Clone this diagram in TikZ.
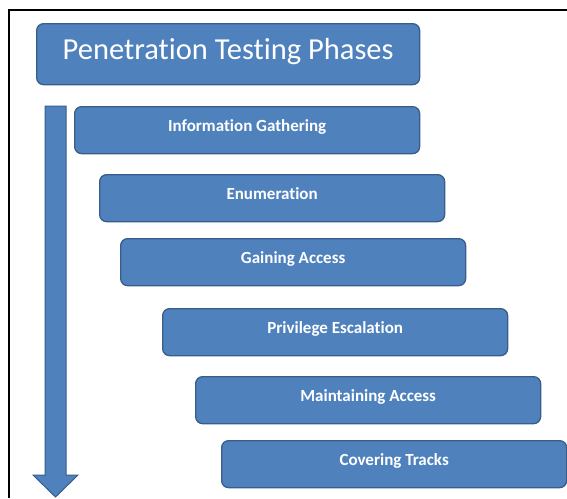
\documentclass[tikz,border=0pt]{standalone}
\usepackage{fontspec}
\setmainfont{Carlito}[Ligatures={NoCommon}]
\usetikzlibrary{positioning}
\definecolor{pBlue}{HTML}{4F81BD}
\definecolor{pEdge}{HTML}{385D8A}
\tikzset{
  phase/.style  ={rectangle,rounded corners=7pt,fill=pBlue,draw=pEdge,line width=1.3pt,text=white,
                  anchor=north west,minimum width=345pt,minimum height=47pt,inner sep=0pt,
                  font=\fontsize{17pt}{19pt}\selectfont\bfseries},
  heading/.style={phase,minimum width=383pt,minimum height=61pt,font=\fontsize{30.5pt}{33pt}\selectfont},
}
% baseline placed relative to the node centre
\newcommand{\base}[2]{\raisebox{#1}[0pt][0pt]{#2}}

\begin{document}
\begin{tikzpicture}[x=1pt,y=-1pt]
  \useasboundingbox (0,0) rectangle (567,498);
  % frame
  \draw[line width=2pt] (9,498) -- (9,10) -- (567,10);

  \node[heading] (title) at (36,23) {\base{-5pt}{Penetration Testing Phases}};

  \node[phase] (gather)   at (74,106)  {\base{-1.5pt}{Information Gathering}};
  \node[phase] (enum)     at (99,174)  {\base{-1.5pt}{Enumeration}};
  \node[phase] (access)   at (120,238) {\base{-1.5pt}{Gaining Access}};
  \node[phase] (privesc)  at (162,308) {\base{-1.5pt}{Privilege Escalation}};
  \node[phase] (maintain) at (195,376) {\base{-1.5pt}{Maintaining Access}};
  \node[phase] (cover)    at (221,440) {\base{-1.5pt}{Covering Tracks}};

  % downward arrow
  \filldraw[fill=pBlue,draw=pEdge,line width=1pt]
    (45,106) -- (66,106) -- (66,475) -- (78,475) -- (55.5,497) -- (33,475) -- (45,475) -- cycle;
\end{tikzpicture}
\end{document}
